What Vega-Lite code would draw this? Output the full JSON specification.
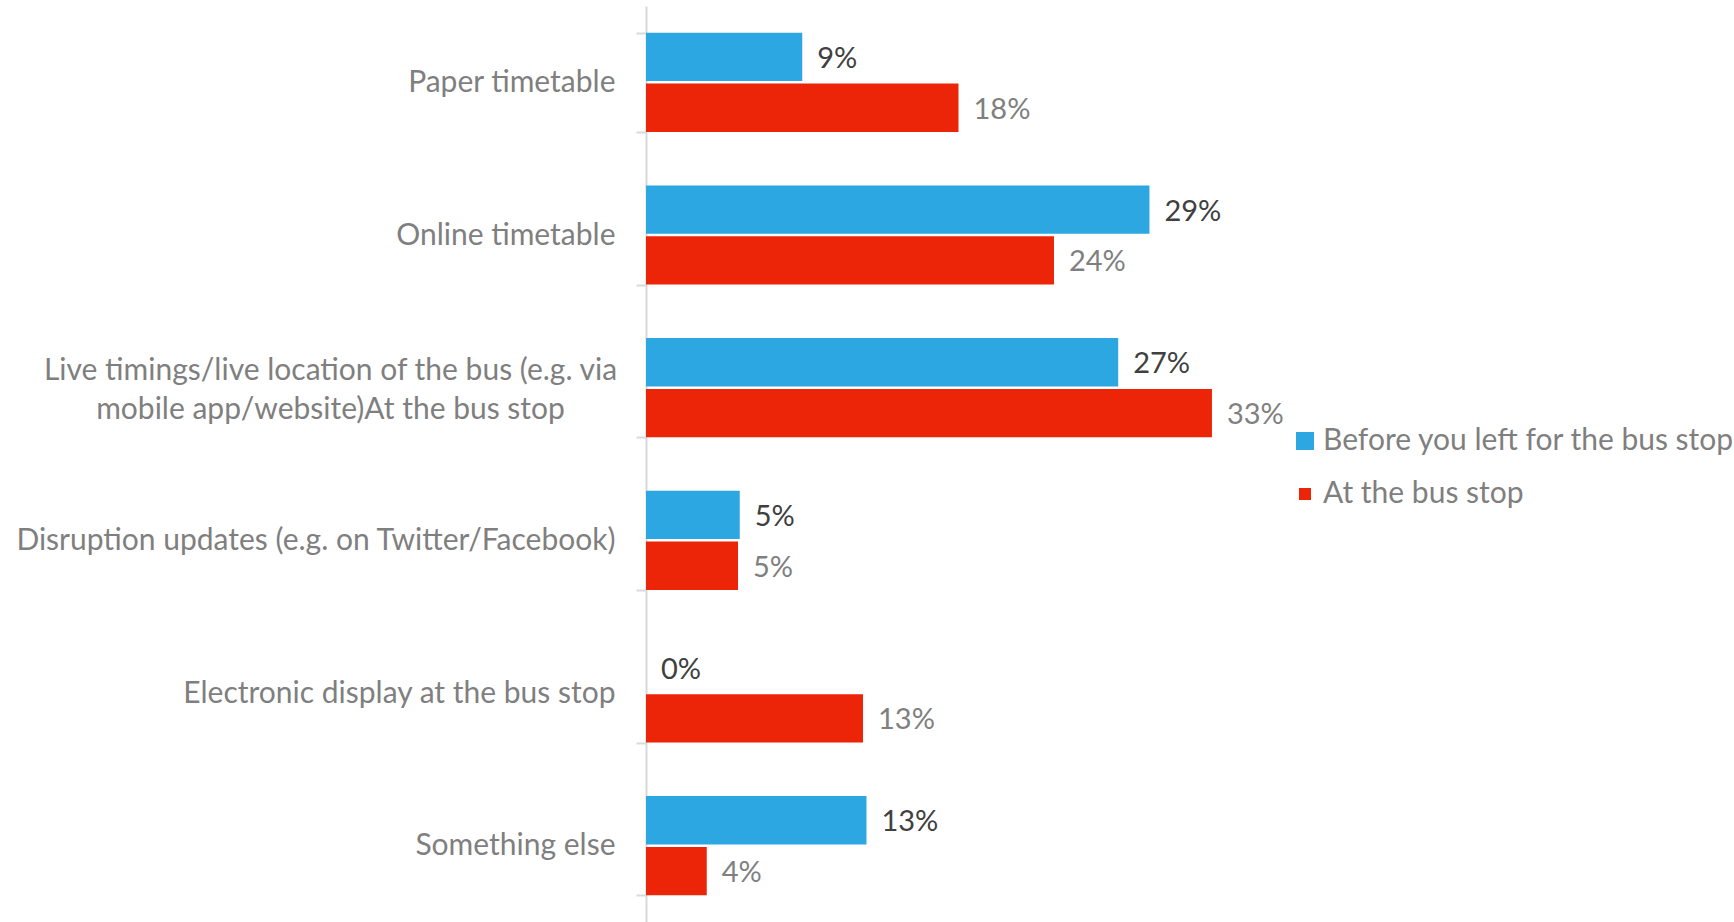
{
  "$schema": "https://vega.github.io/schema/vega-lite/v6.json",
  "autosize": "none",
  "width": 1088,
  "height": 916,
  "padding": {"left": 646, "top": 6, "right": 0, "bottom": 0},
  "background": "#ffffff",
  "config": {"view": {"stroke": null}, "font": "Lato"},
  "data": {
    "values": [
      {"cat": "Paper timetable", "series": "Before you left for the bus stop", "value": 9.0, "label": "9%"},
      {"cat": "Paper timetable", "series": "At the bus stop", "value": 18.0, "label": "18%"},
      {"cat": "Online timetable", "series": "Before you left for the bus stop", "value": 29.0, "label": "29%"},
      {"cat": "Online timetable", "series": "At the bus stop", "value": 23.5, "label": "24%"},
      {"cat": "Live timings", "series": "Before you left for the bus stop", "value": 27.2, "label": "27%"},
      {"cat": "Live timings", "series": "At the bus stop", "value": 32.6, "label": "33%"},
      {"cat": "Disruption updates (e.g. on Twitter/Facebook)", "series": "Before you left for the bus stop", "value": 5.4, "label": "5%"},
      {"cat": "Disruption updates (e.g. on Twitter/Facebook)", "series": "At the bus stop", "value": 5.3, "label": "5%"},
      {"cat": "Electronic display at the bus stop", "series": "Before you left for the bus stop", "value": 0, "label": "0%"},
      {"cat": "Electronic display at the bus stop", "series": "At the bus stop", "value": 12.5, "label": "13%"},
      {"cat": "Something else", "series": "Before you left for the bus stop", "value": 12.7, "label": "13%"},
      {"cat": "Something else", "series": "At the bus stop", "value": 3.5, "label": "4%"}
    ]
  },
  "encoding": {
    "y": {
      "field": "cat",
      "type": "nominal",
      "sort": ["Paper timetable", "Online timetable", "Live timings", "Disruption updates (e.g. on Twitter/Facebook)", "Electronic display at the bus stop", "Something else"],
      "scale": {"paddingInner": 0.35, "paddingOuter": 0.175},
      "axis": {
        "title": null,
        "domainColor": "#d9d9d9",
        "domainWidth": 2,
        "tickColor": "#d9d9d9",
        "tickWidth": 2,
        "tickSize": 10,
        "tickBand": "extent",
        "labelFontSize": 30,
        "labelColor": "#7f7f7f",
        "labelLimit": 700,
        "labelLineHeight": 39,
        "labelExpr": "datum.value == 'Live timings' ? ['Live timings/live location of the bus (e.g. via', 'mobile app/website)At the bus stop'] : datum.value",
        "labelAlign": {"condition": {"test": "datum.value == 'Live timings'", "value": "center"}, "value": "right"},
        "labelPadding": {"condition": {"test": "datum.value == 'Live timings'", "value": 306}, "value": 21},
        "labelOffset": {"condition": {"test": "datum.value == 'Live timings'", "value": -17}, "value": 0}
      }
    },
    "yOffset": {
      "field": "series",
      "type": "nominal",
      "sort": ["Before you left for the bus stop", "At the bus stop"],
      "scale": {"paddingInner": 0.05}
    },
    "x": {
      "field": "value",
      "type": "quantitative",
      "scale": {"domain": [0, 62.67]},
      "axis": null
    }
  },
  "layer": [
    {
      "mark": {"type": "bar"},
      "encoding": {
        "color": {
          "field": "series",
          "type": "nominal",
          "sort": ["Before you left for the bus stop", "At the bus stop"],
          "scale": {"domain": ["Before you left for the bus stop", "At the bus stop"], "range": ["#2ca7e1", "#ec2508"]},
          "legend": {
            "title": null,
            "orient": "none",
            "legendX": 644,
            "legendY": 420,
            "symbolType": "square",
            "symbolSize": 324,
            "symbolStrokeWidth": 0,
            "labelFontSize": 30,
            "labelColor": "#7f7f7f",
            "labelLimit": 600,
            "labelOffset": 3,
            "rowPadding": 23,
            "encode": {
              "symbols": {"update": {"size": {"signal": "datum.value == 'At the bus stop' ? 144 : 324"}}}
            }
          }
        }
      }
    },
    {
      "mark": {"type": "text", "align": "left", "baseline": "middle", "dx": 15, "dy": 2, "fontSize": 29},
      "encoding": {
        "text": {"field": "label"},
        "color": {
          "condition": {"test": "datum.series == 'Before you left for the bus stop'", "value": "#404040"},
          "value": "#7f7f7f"
        }
      }
    }
  ]
}
